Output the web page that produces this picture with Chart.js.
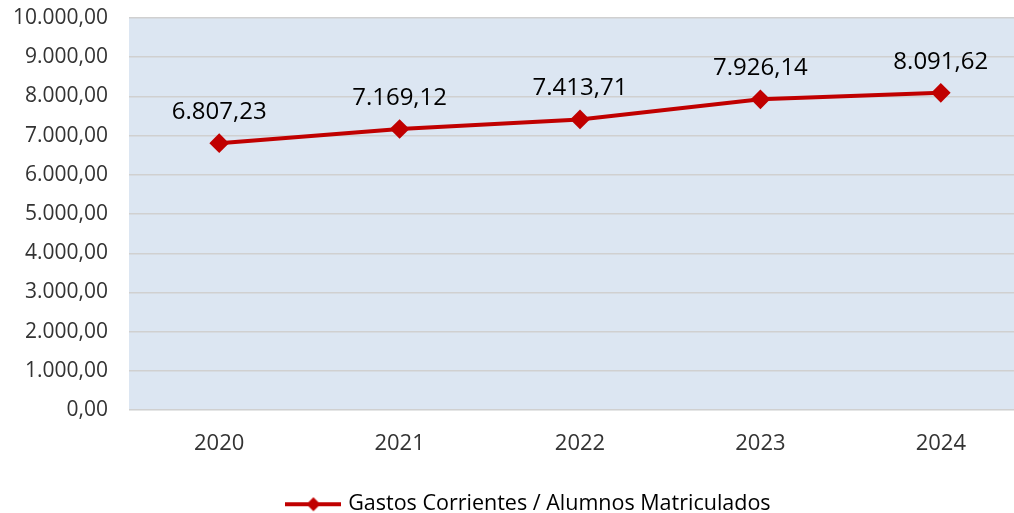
<!DOCTYPE html>
<html lang="es">
  <head>
    <meta charset="utf-8">
    <title>Gastos Corrientes / Alumnos Matriculados</title>
    <script src="https://cdn.jsdelivr.net/npm/chart.js@4/dist/chart.umd.min.js"></script>
    <style>
      html, body { margin: 0; padding: 0; background: #fff; overflow: hidden; }
      div.wrap { width: 1060px; height: 513px; }
    </style>
  </head>
  <body>
    <div class="wrap">
      <canvas id="main-chart" width="1060" height="513"></canvas>
    </div>
    <script>
      var years = ['2020', '2021', '2022', '2023', '2024'];
      var gastos = [6807.23, 7169.12, 7413.71, 7926.14, 8091.62];
      var seriesName = 'Gastos Corrientes / Alumnos Matriculados';

      var red = '#C00000';
      var font = '"Open Sans", "Liberation Sans", sans-serif';

      function fmt(v) {
        var parts = v.toFixed(2).split('.');
        var int = parts[0].replace(/\B(?=(\d{3})+(?!\d))/g, '.');
        return int + ',' + parts[1];
      }

      // legend symbol: line with a diamond in the middle
      function legend_icon() {
        var c = document.createElement('canvas');
        c.width = 56; c.height = 16;
        var ctx = c.getContext('2d');
        ctx.strokeStyle = red;
        ctx.lineWidth = 4;
        ctx.beginPath();
        ctx.moveTo(0, 8); ctx.lineTo(56, 8);
        ctx.stroke();
        ctx.fillStyle = red;
        ctx.beginPath();
        ctx.moveTo(28, 1); ctx.lineTo(35, 8); ctx.lineTo(28, 15); ctx.lineTo(21, 8);
        ctx.closePath();
        ctx.fill();
        return c;
      }
      var icon = legend_icon();

      var areaBg = {
        id: 'areaBg',
        beforeDraw: function (chart) {
          var a = chart.chartArea, ctx = chart.ctx;
          ctx.save();
          ctx.fillStyle = '#DCE6F2';
          ctx.fillRect(a.left, a.top, a.right - a.left, a.bottom - a.top);
          ctx.restore();
        }
      };

      var valueLabels = {
        id: 'valueLabels',
        afterDatasetsDraw: function (chart) {
          var ctx = chart.ctx;
          var meta = chart.getDatasetMeta(0);
          ctx.save();
          ctx.font = '24px ' + font;
          ctx.fillStyle = '#000';
          ctx.textAlign = 'center';
          ctx.textBaseline = 'middle';
          meta.data.forEach(function (pt, i) {
            ctx.fillText(fmt(gastos[i]), pt.x, pt.y - 31);
          });
          ctx.restore();
        }
      };

      new Chart(document.getElementById('main-chart'), {
        type: 'line',
        data: {
          labels: years,
          datasets: [{
            label: seriesName,
            data: gastos,
            borderColor: red,
            backgroundColor: red,
            borderWidth: 4,
            pointStyle: 'rectRot',
            pointRadius: 7,
            pointHoverRadius: 7,
            tension: 0,
            fill: false
          }]
        },
        options: {
          responsive: false,
          animation: false,
          layout: { padding: { left: 0, right: 0, top: 18, bottom: -12 } },
          plugins: {
            tooltip: { enabled: false },
            legend: {
              position: 'bottom',
              labels: {
                usePointStyle: true,
                pointStyleWidth: 48,
                padding: 0,
                color: '#000',
                font: { family: font, size: 21.5 },
                generateLabels: function (chart) {
                  return [{
                    text: seriesName,
                    pointStyle: icon,
                    fillStyle: red,
                    strokeStyle: red,
                    lineWidth: 0,
                    datasetIndex: 0,
                    hidden: false
                  }];
                }
              }
            }
          },
          scales: {
            x: {
              offset: true,
              afterFit: function (s) { s.height += 25; },
              grid: { display: false },
              border: { display: false },
              ticks: {
                padding: 12,
                color: '#333',
                font: { family: font, size: 22 }
              }
            },
            y: {
              min: 0,
              max: 10000,
              afterFit: function (s) {
                s.width = 129;
                s.paddingTop = 0;
                s.paddingBottom = 0;
              },
              grid: { color: '#D0D0D0', lineWidth: 1.5, drawTicks: false },
              border: { display: false },
              ticks: {
                stepSize: 1000,
                padding: 21,
                color: '#333',
                font: { family: font, size: 21 },
                callback: function (v) { return fmt(v); }
              }
            },
            // empty right axis, only reserves room so the plot runs past the crop
            yRight: {
              position: 'right',
              afterFit: function (s) {
                s.width = 29;
                s.paddingTop = 0;
                s.paddingBottom = 0;
              },
              grid: { display: false },
              border: { display: false },
              ticks: { display: false }
            }
          }
        },
        plugins: [areaBg, valueLabels]
      });
    </script>
  </body>
</html>
